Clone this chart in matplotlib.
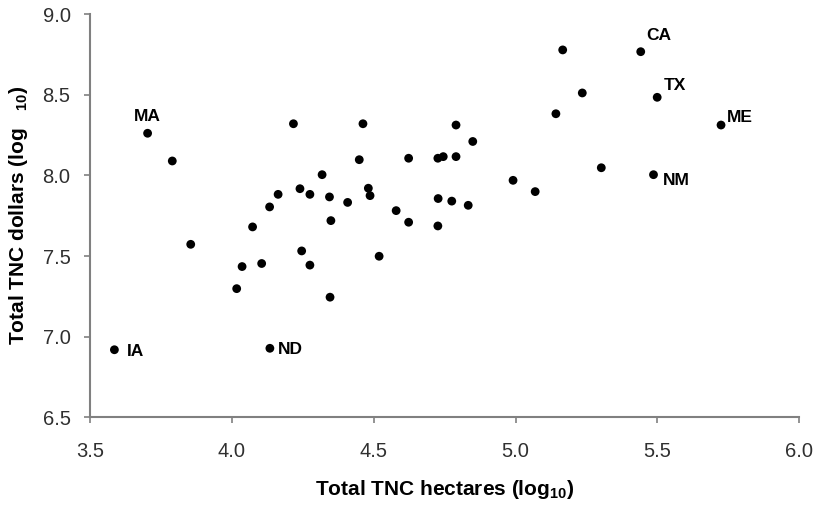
import matplotlib
matplotlib.use("Agg")
import matplotlib.pyplot as plt

plt.rcParams['font.family'] = ['Liberation Sans', 'DejaVu Sans']
plt.rcParams['mathtext.fontset'] = 'custom'
plt.rcParams['mathtext.rm'] = 'Liberation Sans:bold'
plt.rcParams['mathtext.bf'] = 'Liberation Sans:bold'

# log10 hectares vs log10 dollars, one point per state
hectares = [3.703, 3.790, 3.855, 4.217, 4.462, 4.449, 4.623, 4.318, 4.240, 4.275,
            4.163, 4.133, 4.344, 4.408, 4.481, 4.487, 4.579, 4.623, 4.349, 4.073,
            4.246, 4.519, 5.166, 5.441, 5.235, 5.499, 5.142, 5.724, 4.790, 4.849,
            4.726, 4.745, 4.790, 5.302, 5.486, 4.991, 5.069, 4.727, 4.775, 4.833,
            4.726, 4.036, 4.105, 4.275, 4.017, 4.346, 3.586, 4.134]
dollars = [8.262, 8.090, 7.573, 8.321, 8.321, 8.098, 8.107, 8.005, 7.918, 7.883,
           7.883, 7.805, 7.867, 7.833, 7.921, 7.875, 7.782, 7.710, 7.720, 7.681,
           7.532, 7.499, 8.779, 8.768, 8.512, 8.485, 8.383, 8.313, 8.313, 8.211,
           8.107, 8.117, 8.117, 8.048, 8.005, 7.970, 7.900, 7.857, 7.841, 7.815,
           7.687, 7.435, 7.454, 7.444, 7.298, 7.245, 6.919, 6.928]

# labelled states: (name, x, y, text offset in points, alignment)
labels = [("MA", 3.703, 8.262, (0, 7), "center", "bottom"),
          ("CA", 5.441, 8.768, (4, 6), "left", "bottom"),
          ("TX", 5.499, 8.485, (5, 3), "left", "bottom"),
          ("ME", 5.724, 8.313, (4, 0), "left", "bottom"),
          ("NM", 5.486, 8.005, (7, -4), "left", "center"),
          ("IA", 3.586, 6.919, (9, -1), "left", "center"),
          ("ND", 4.134, 6.928, (6, -1), "left", "center")]

fig = plt.figure(figsize=(8.13, 5.05), dpi=100)
ax = fig.add_axes([0.1107, 0.1737, 0.8725, 0.798])

ax.scatter(hectares, dollars, s=40, color='black', edgecolors='none', zorder=3)

for name, x, y, off, ha, va in labels:
    ax.annotate(name, (x, y), xytext=off, textcoords='offset points',
                ha=ha, va=va, fontsize=12.5, fontweight='bold')

ax.set_xlim(3.5, 6.0)
ax.set_ylim(6.5, 9.0)
ax.set_xticks([3.5, 4.0, 4.5, 5.0, 5.5, 6.0])
ax.set_yticks([6.5, 7.0, 7.5, 8.0, 8.5, 9.0])
ax.set_xticklabels(['3.5', '4.0', '4.5', '5.0', '5.5', '6.0'])
ax.set_yticklabels(['6.5', '7.0', '7.5', '8.0', '8.5', '9.0'])

for side in ['top', 'right']:
    ax.spines[side].set_visible(False)
for side in ['left', 'bottom']:
    ax.spines[side].set_color('#808080')
    ax.spines[side].set_linewidth(1.5)
ax.tick_params(direction='out', length=4, width=1.2, color='#808080',
               labelsize=14.5, labelcolor='#303030')
ax.tick_params(axis='x', pad=14)
ax.tick_params(axis='y', pad=10)

ax.set_xlabel('Total TNC hectares (log$_{10}$)', fontsize=15, fontweight='bold', labelpad=12)
ax.set_ylabel('Total TNC dollars (log   $_{10}$)', fontsize=15, fontweight='bold', labelpad=9)

fig.savefig('out.png', dpi=100)
